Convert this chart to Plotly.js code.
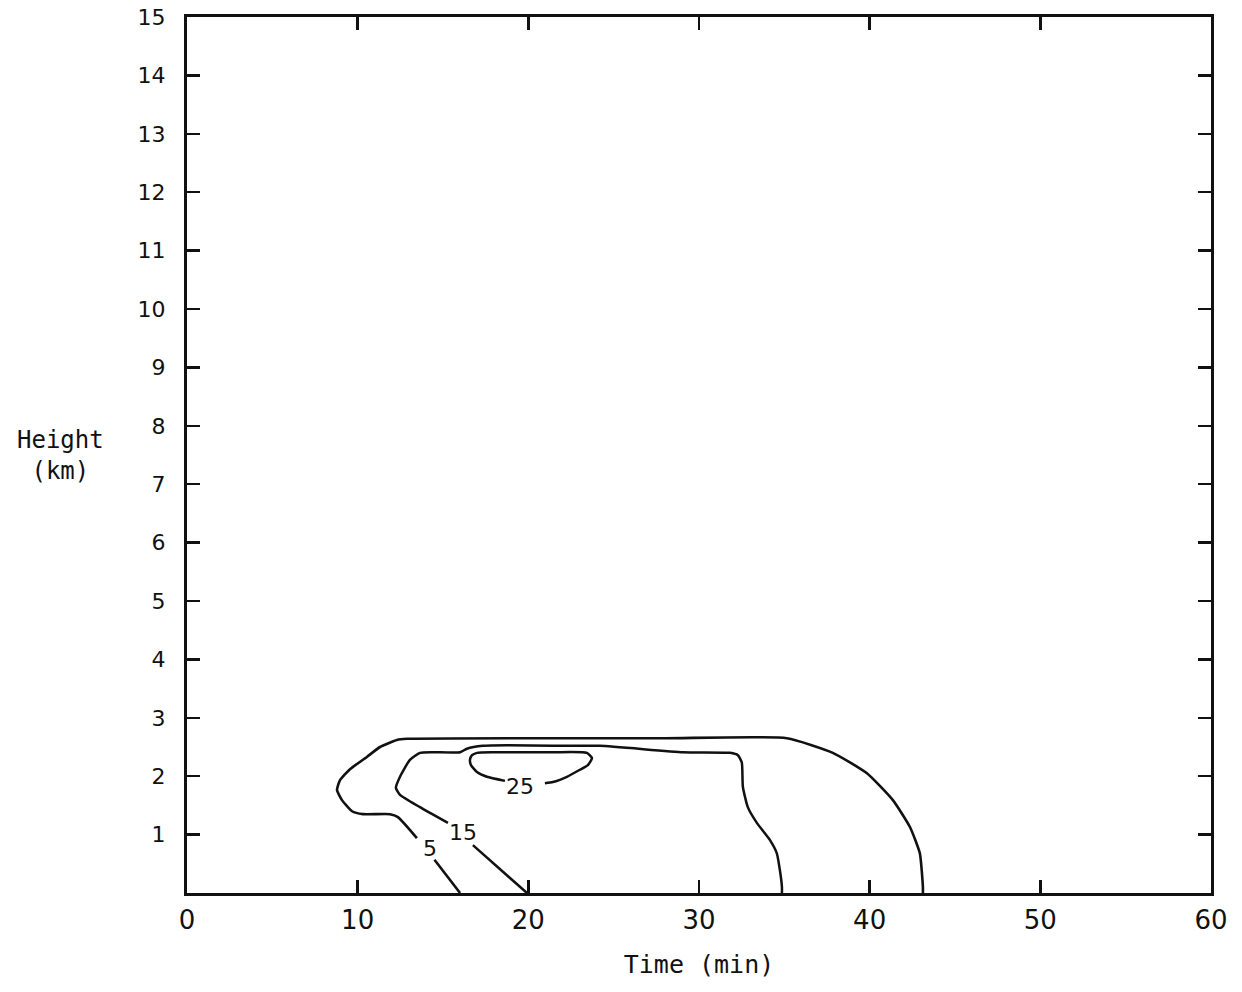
<!DOCTYPE html>
<html>
<head>
<meta charset="utf-8">
<script src="https://cdn.plot.ly/plotly-3.0.1.min.js"></script>
<style>html,body{margin:0;padding:0;background:#fff;}</style>
</head>
<body>
<div id="chart" style="width:1242px;height:992px;"></div>
<script>
// Contour "5" (outer) : time (min), height (km); null = gap for label
const c5_x = [16.0, 14.5, null, 13.47, 12.36, 11.89, 10.31, 9.67, 9.08, 8.79, 8.96, 9.55, 10.54, 11.31, 12.30, 12.89, 20.0, 28.0, 35.15, 37.84, 39.84, 41.36, 42.36, 42.94, 43.12, 43.12];
const c5_y = [0.0, 0.57, null, 0.94, 1.30, 1.35, 1.35, 1.40, 1.59, 1.76, 1.93, 2.12, 2.33, 2.50, 2.62, 2.64, 2.65, 2.65, 2.65, 2.40, 2.05, 1.59, 1.13, 0.68, 0.10, 0.0];
// Contour "15"
const c15_x = [19.92, 16.75, null, 15.29, 13.65, 12.48, 12.24, 12.48, 13.06, 13.65, 14.41, 16.0, 16.40, 17.34, 18.75, 21.44, 24.19, 29.06, 31.81, 32.28, 32.51, 32.57, 32.86, 33.39, 34.15, 34.56, 34.74, 34.86, 34.86];
const c15_y = [0.0, 0.82, null, 1.20, 1.47, 1.68, 1.80, 1.99, 2.28, 2.40, 2.41, 2.41, 2.47, 2.52, 2.53, 2.52, 2.52, 2.41, 2.40, 2.36, 2.23, 1.82, 1.47, 1.20, 0.91, 0.68, 0.39, 0.10, 0.0];
// Contour "25"
const c25_x = [20.97, 21.44, 22.26, 23.02, 23.49, 23.73, 23.43, 21.44, 19.51, 17.93, 16.99, 16.70, 16.58, 16.64, 16.99, 17.57, 18.63];
const c25_y = [1.88, 1.90, 1.99, 2.11, 2.19, 2.31, 2.40, 2.41, 2.41, 2.41, 2.40, 2.36, 2.28, 2.19, 2.07, 1.99, 1.92];

// Contour labels
const label_text = ["5", "15", "25"];
const label_x = [14.25, 16.15, 19.5];
const label_y = [0.77, 1.04, 1.83];

// Axis ticks
const x_ticks = [0, 10, 20, 30, 40, 50, 60];
const x_ticktext = ["0", "10", "20", "30", "40", "50", "60"];
const y_ticks = [0, 1, 2, 3, 4, 5, 6, 7, 8, 9, 10, 11, 12, 13, 14, 15];
const y_ticktext = ["", "1", "2", "3", "4", "5", "6", "7", "8", "9", "10", "11", "12", "13", "14", "15"];

const lineStyle = {color: "#111", width: 2.5, shape: "spline", smoothing: 0.5};

const traces = [
  {x: c5_x, y: c5_y, mode: "lines", line: Object.assign({}, lineStyle, {width: 2.6}), connectgaps: false, hoverinfo: "skip", showlegend: false},
  {x: c15_x, y: c15_y, mode: "lines", line: lineStyle, connectgaps: false, hoverinfo: "skip", showlegend: false},
  {x: c25_x, y: c25_y, mode: "lines", line: lineStyle, connectgaps: false, hoverinfo: "skip", showlegend: false}
];

const annotations = label_text.map((t, i) => ({
  x: label_x[i], y: label_y[i], xref: "x", yref: "y", text: t, showarrow: false,
  font: {family: "DejaVu Sans", size: 22, color: "#111"}
}));
annotations.push({
  x: -0.124, y: 0.50, xref: "paper", yref: "paper", text: "Height<br>(km)", showarrow: false,
  xanchor: "center", yanchor: "middle", align: "center",
  font: {family: "DejaVu Sans Mono", size: 24, color: "#111"}
});

const layout = {
  width: 1242, height: 992,
  margin: {l: 187, r: 31, t: 17, b: 99},
  paper_bgcolor: "#fff", plot_bgcolor: "#fff",
  font: {family: "DejaVu Sans", color: "#111"},
  xaxis: {
    range: [0, 60], tickvals: x_ticks, ticktext: x_ticktext,
    ticks: "inside", ticklen: 13, tickwidth: 2.5, tickcolor: "#111",
    showline: true, linewidth: 3, linecolor: "#111", mirror: "ticks",
    showgrid: false, zeroline: false,
    tickfont: {family: "DejaVu Sans", size: 26, color: "#111"},
    ticklabelstandoff: 2,
    title: {text: "Time (min)", font: {family: "DejaVu Sans Mono", size: 25, color: "#111"}, standoff: 22}
  },
  yaxis: {
    range: [0, 15], tickvals: y_ticks, ticktext: y_ticktext,
    ticks: "inside", ticklen: 13, tickwidth: 2.5, tickcolor: "#111",
    showline: true, linewidth: 3, linecolor: "#111", mirror: "ticks",
    showgrid: false, zeroline: false,
    tickfont: {family: "DejaVu Sans", size: 22, color: "#111"},
    ticklabelstandoff: 14
  },
  annotations: annotations,
  showlegend: false
};

Plotly.newPlot("chart", traces, layout, {displayModeBar: false, staticPlot: true});
</script>
</body>
</html>
